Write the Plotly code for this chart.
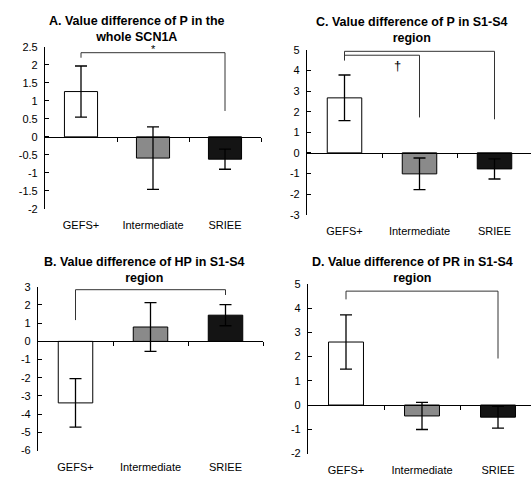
import plotly.graph_objects as go

W, H = 531, 479

categories = ["GEFS+", "Intermediate", "SRIEE"]

a_values = [1.26, -0.59, -0.62]
a_errors = [0.71, 0.87, 0.28]
b_values = [-3.38, 0.79, 1.44]
b_errors = [1.33, 1.34, 0.58]
c_values = [2.67, -1.02, -0.78]
c_errors = [1.11, 0.77, 0.49]
d_values = [2.6, -0.45, -0.5]
d_errors = [1.12, 0.56, 0.45]

titles = {
    "A": "A. Value difference of P in the<br>whole SCN1A",
    "B": "B. Value difference of HP in S1-S4<br>region",
    "C": "C. Value difference of P in S1-S4<br>region",
    "D": "D. Value difference of PR in S1-S4<br>region",
}

bar_colors = ["#ffffff", "#8a8a8a", "#141414"]
FONT = "Arial, Liberation Sans, sans-serif"

# panel geometry in pixels: x-left, x-right (range -0.5..2.5), y-top, y-bottom
panels = [
    dict(key="A", vals=a_values, errs=a_errors, x0=45, x1=261, yt=42, yb=208,
         yr=[-2, 2.5], dtick=0.5, tx=137, ty=23.5, spacing=72,
         brackets=[(0, 2, 2.34, 2.2, 0.72)], marks=[("*", 1.0, 2.44)]),
    dict(key="C", vals=c_values, errs=c_errors, x0=307, x1=531, yt=45, yb=214,
         yr=[-3, 5], dtick=1, tx=412, ty=25, spacing=75,
         brackets=[(0, 2, 4.93, 4.49, 1.63), (0, 1, 4.74, 4.49, 1.72)],
         marks=[("**", 1.11, 5.1), ("†", 0.71, 4.25)]),
    dict(key="B", vals=b_values, errs=b_errors, x0=38, x1=263, yt=288, yb=456,
         yr=[-6, 3], dtick=1, tx=144, ty=270.5, spacing=75,
         brackets=[(0, 2, 2.84, 1.17, 2.55)], marks=[("**", 1.17, 3.08)]),
    dict(key="D", vals=d_values, errs=d_errors, x0=308, x1=531, yt=285, yb=459,
         yr=[-2, 5], dtick=1, tx=412, ty=270.5, spacing=76,
         brackets=[(0, 2, 4.7, 4.36, 1.92)], marks=[("*", 1.0, 5.03)]),
]


def tick_label(v):
    return f"{v:g}"  # plain hyphen-minus, as in the reference


fig = go.Figure()
layout = dict(
    width=W, height=H, margin=dict(l=0, r=0, t=0, b=0),
    paper_bgcolor="white", plot_bgcolor="rgba(0,0,0,0)",
    showlegend=False, font=dict(family=FONT, size=11, color="black"),
)
annotations = []

for i, p in enumerate(panels):
    n = i + 1
    xa = "x" if n == 1 else f"x{n}"
    ya = "y" if n == 1 else f"y{n}"
    xname = "xaxis" if n == 1 else f"xaxis{n}"
    yname = "yaxis" if n == 1 else f"yaxis{n}"
    ovn = n + 4
    ovname = f"xaxis{ovn}"

    xmax = -0.5 + (p["x1"] - p["x0"]) / p["spacing"]
    xdom = [p["x0"] / W, p["x1"] / W]
    ydom = [1 - p["yb"] / H, 1 - p["yt"] / H]

    fig.add_trace(go.Bar(
        x=[0, 1, 2], y=p["vals"], xaxis=xa, yaxis=ya, width=0.46,
        marker=dict(color=bar_colors, line=dict(color="black", width=1)),
        error_y=dict(type="data", array=p["errs"], visible=True,
                     color="black", thickness=1.3, width=6),
    ))

    for (xl, xr, top, lb, rb) in p["brackets"]:
        fig.add_trace(go.Scatter(
            x=[xl, xl, xr, xr], y=[lb, top, top, rb], mode="lines",
            xaxis=xa, yaxis=ya, cliponaxis=False, hoverinfo="skip",
            line=dict(color="#333333", width=1),
        ))
    for (txt, mx, my) in p["marks"]:
        annotations.append(dict(
            text=txt, x=mx, y=my, xref=xa, yref=ya, showarrow=False,
            height=8 if txt != "†" else 14,
            font=dict(size=11 if txt != "†" else 13, color="black", family=FONT),
        ))

    # invisible trace so the zero-line axis is drawn
    fig.add_trace(go.Scatter(
        x=[0], y=[0], xaxis=f"x{ovn}", yaxis=ya, mode="markers",
        marker=dict(opacity=0), hoverinfo="skip",
    ))

    yticks = []
    v = p["yr"][0]
    while v <= p["yr"][1] + 1e-9:
        yticks.append(round(v, 6))
        v += p["dtick"]

    layout[xname] = dict(
        domain=xdom, range=[-0.5, xmax], anchor=ya,
        tickvals=[0, 1, 2], ticktext=categories, showline=False,
        ticks="", showgrid=False, zeroline=False, fixedrange=True,
        tickfont=dict(size=11, color="black"), ticklabelstandoff=8,
    )
    layout[yname] = dict(
        domain=ydom, range=p["yr"], anchor=xa,
        tickvals=yticks, ticktext=[tick_label(t) for t in yticks],
        showline=True, linecolor="black", linewidth=1.2,
        ticks="inside", ticklen=4, tickcolor="black", tickwidth=1.2,
        showgrid=False, zeroline=False, fixedrange=True,
        tickfont=dict(size=11, color="black"), ticklabelstandoff=4,
    )
    zero_pos = ydom[0] + (0 - p["yr"][0]) / (p["yr"][1] - p["yr"][0]) * (ydom[1] - ydom[0])
    layout[ovname] = dict(
        domain=xdom, range=[-0.5, xmax], overlaying=xa, anchor="free",
        position=zero_pos, showline=True, linecolor="black", linewidth=1.2,
        tickvals=[0.5, 1.5, 2.5], ticks="outside", ticklen=4,
        tickcolor="black", tickwidth=1.2, showticklabels=False,
        showgrid=False, zeroline=False, fixedrange=True,
    )

    annotations.append(dict(
        text="<b>" + titles[p["key"]] + "</b>", x=p["tx"] / W, y=1 - p["ty"] / H,
        xref="paper", yref="paper", xanchor="center", yanchor="middle",
        showarrow=False, align="center",
        font=dict(size=12.5, color="black", family=FONT),
    ))

layout["annotations"] = annotations
fig.update_layout(**layout)

fig.write_html("out.html", config={"displayModeBar": False},
               post_script="document.body.style.margin='0';")
